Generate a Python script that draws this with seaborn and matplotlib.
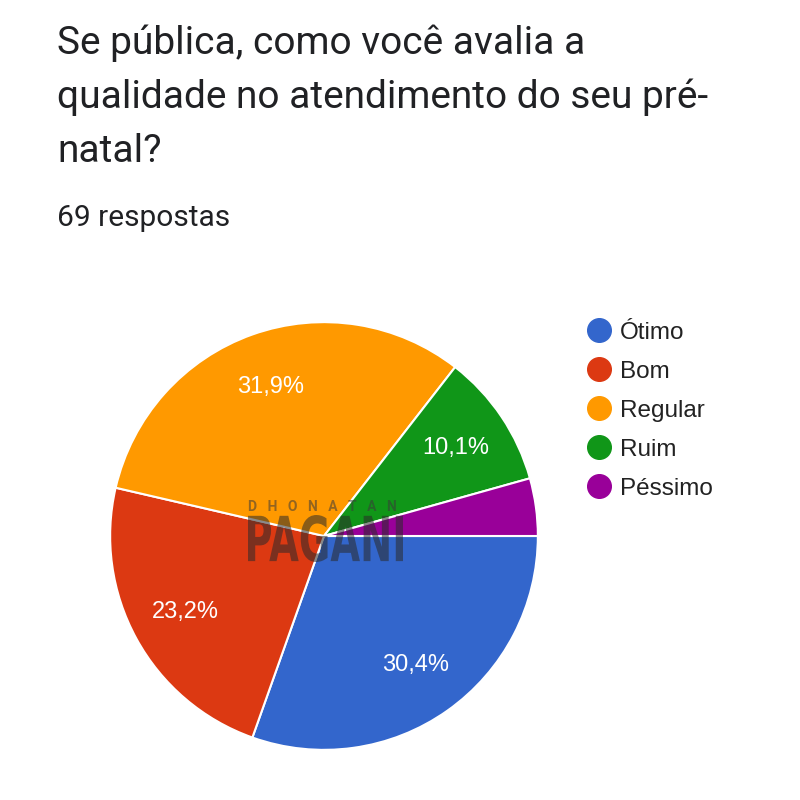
import matplotlib
matplotlib.use("Agg")
import matplotlib.pyplot as plt
import seaborn as sns
from matplotlib.lines import Line2D
from matplotlib.textpath import TextPath
from matplotlib.patches import PathPatch
from matplotlib.font_manager import FontProperties
from matplotlib.transforms import Affine2D, IdentityTransform

# data
categories = ["Ótimo", "Bom", "Regular", "Ruim", "Péssimo"]
counts = [21, 16, 22, 7, 3]
colors = ["#3366cc", "#dc3912", "#ff9900", "#109618", "#990099"]
title_lines = "Se pública, como você avalia a\nqualidade no atendimento do seu pré-\nnatal?"
subtitle = "69 respostas"

sns.set_theme(style="white")
plt.rcParams["font.family"] = ["Roboto", "DejaVu Sans"]

fig = plt.figure(figsize=(8, 8), dpi=100)
fig.patch.set_facecolor("white")

# pie area: center (324, 536) px, radius 216 px
ax = fig.add_axes([108 / 800, 48 / 800, 432 / 800, 432 / 800])


def pct_label(p):
    if p < 5:
        return ""
    return f"{p:.1f}%".replace(".", ",")


wedges, texts, autotexts = ax.pie(
    counts, colors=colors, startangle=0, counterclock=False,
    autopct=pct_label, pctdistance=0.74, radius=1,
    wedgeprops=dict(edgecolor="white", linewidth=1.5),
    textprops=dict(color="white", fontsize=17,
                   family=["Liberation Sans", "DejaVu Sans"]),
)
ax.set_xlim(-1.01, 1.01)
ax.set_ylim(-1.01, 1.01)
ax.set_aspect("equal")

# title and subtitle
fig.text(57 / 800, 1 - 24 / 800, title_lines, ha="left", va="top",
         fontsize=28, color="#202124", linespacing=1.58)
fig.text(57 / 800, 1 - 218 / 800, subtitle, ha="left", va="center",
         fontsize=21.5, color="#202124")

# legend
handles = [Line2D([0], [0], marker="o", linestyle="", markersize=17,
                  markerfacecolor=c, markeredgecolor=c) for c in colors]
fig.legend(handles, categories, loc="upper left",
           bbox_to_anchor=(575 / 800, 1 - 312 / 800), frameon=False,
           prop=dict(size=17.5, family=["Liberation Sans", "DejaVu Sans"]),
           labelspacing=0.7, handletextpad=0.25,
           handlelength=1.2, borderaxespad=0, labelcolor="#222222")

# watermark
fig.text(322 / 800, 1 - 507 / 800, "D   H   O   N   A   T   A   N", ha="center",
         va="center", fontsize=10, color="#3a3a3a", alpha=0.55, fontweight="bold")
tp = TextPath((0, 0), "PAGANI", size=1,
              prop=FontProperties(family="DejaVu Sans", weight="bold"))
ext = tp.get_extents()
sx = 155 / ext.width
sy = 47 / ext.height
trans = Affine2D().translate(-ext.x0, -ext.y0).scale(sx, sy).translate(248, 800 - 562)
patch = PathPatch(trans.transform_path(tp), facecolor="#2a2a2a", edgecolor="none",
                  alpha=0.55, transform=IdentityTransform())
fig.add_artist(patch)

fig.savefig("out.png", dpi=100, facecolor="white")
